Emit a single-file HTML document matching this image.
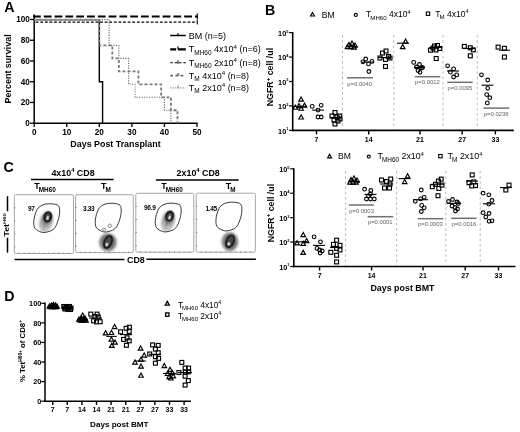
<!DOCTYPE html><html><head><meta charset="utf-8"><style>html,body{margin:0;padding:0;background:#fff;width:520px;height:432px;overflow:hidden}svg{display:block;filter:blur(0.3px)}text{font-family:"Liberation Sans",sans-serif}</style></head><body>
<svg width="520" height="432" viewBox="0 0 520 432">
<defs><filter id="bl" x="-50%" y="-50%" width="200%" height="200%"><feGaussianBlur stdDeviation="1.2"/></filter><filter id="bl3" x="-50%" y="-50%" width="200%" height="200%"><feGaussianBlur stdDeviation="0.9"/></filter><filter id="bl2" x="-50%" y="-50%" width="200%" height="200%"><feGaussianBlur stdDeviation="0.6"/></filter></defs>
<rect width="520" height="432" fill="#fff"/>
<text x="4.3" y="12.0" font-size="14.2" font-weight="bold" text-anchor="start" fill="#000" >A</text>
<line x1="34.20" y1="14.50" x2="34.20" y2="123.90" stroke="#000" stroke-width="1.5" />
<line x1="33.50" y1="123.20" x2="197.60" y2="123.20" stroke="#000" stroke-width="1.5" />
<line x1="30.00" y1="123.20" x2="34.20" y2="123.20" stroke="#000" stroke-width="1.3" />
<text x="29.8" y="126.1" font-size="8.2" font-weight="bold" text-anchor="end" fill="#000" >0</text>
<line x1="30.00" y1="102.46" x2="34.20" y2="102.46" stroke="#000" stroke-width="1.3" />
<text x="29.8" y="105.4" font-size="8.2" font-weight="bold" text-anchor="end" fill="#000" >20</text>
<line x1="30.00" y1="81.72" x2="34.20" y2="81.72" stroke="#000" stroke-width="1.3" />
<text x="29.8" y="84.6" font-size="8.2" font-weight="bold" text-anchor="end" fill="#000" >40</text>
<line x1="30.00" y1="60.98" x2="34.20" y2="60.98" stroke="#000" stroke-width="1.3" />
<text x="29.8" y="63.9" font-size="8.2" font-weight="bold" text-anchor="end" fill="#000" >60</text>
<line x1="30.00" y1="40.24" x2="34.20" y2="40.24" stroke="#000" stroke-width="1.3" />
<text x="29.8" y="43.1" font-size="8.2" font-weight="bold" text-anchor="end" fill="#000" >80</text>
<line x1="30.00" y1="19.50" x2="34.20" y2="19.50" stroke="#000" stroke-width="1.3" />
<text x="29.8" y="22.4" font-size="8.2" font-weight="bold" text-anchor="end" fill="#000" >100</text>
<line x1="34.20" y1="123.20" x2="34.20" y2="127.00" stroke="#000" stroke-width="1.3" />
<text x="34.2" y="135.2" font-size="8.2" font-weight="bold" text-anchor="middle" fill="#000" >0</text>
<line x1="66.76" y1="123.20" x2="66.76" y2="127.00" stroke="#000" stroke-width="1.3" />
<text x="66.8" y="135.2" font-size="8.2" font-weight="bold" text-anchor="middle" fill="#000" >10</text>
<line x1="99.32" y1="123.20" x2="99.32" y2="127.00" stroke="#000" stroke-width="1.3" />
<text x="99.3" y="135.2" font-size="8.2" font-weight="bold" text-anchor="middle" fill="#000" >20</text>
<line x1="131.88" y1="123.20" x2="131.88" y2="127.00" stroke="#000" stroke-width="1.3" />
<text x="131.9" y="135.2" font-size="8.2" font-weight="bold" text-anchor="middle" fill="#000" >30</text>
<line x1="164.44" y1="123.20" x2="164.44" y2="127.00" stroke="#000" stroke-width="1.3" />
<text x="164.4" y="135.2" font-size="8.2" font-weight="bold" text-anchor="middle" fill="#000" >40</text>
<line x1="197.00" y1="123.20" x2="197.00" y2="127.00" stroke="#000" stroke-width="1.3" />
<text x="197.0" y="135.2" font-size="8.2" font-weight="bold" text-anchor="middle" fill="#000" >50</text>
<text x="115.5" y="147.2" font-size="8.9" font-weight="bold" text-anchor="middle" fill="#000" >Days Post Transplant</text>
<text x="0.0" y="0.0" font-size="8.95" font-weight="bold" text-anchor="middle" fill="#000" transform="translate(10.8,68.9) rotate(-90)">Percent survival</text>
<path d="M34.2,19.6 H109.09 V45.43 H118.86 V58.39 H128.62 V84.31 H135.14 V97.28 H164.44 V110.24 H170.95 V123.2" fill="none" stroke="#6a6a6a" stroke-width="1.1" stroke-dasharray="1.2,1.3"/>
<path d="M34.2,19.6 H99.32 V81.72 H102.58 V123.2" fill="none" stroke="#000" stroke-width="1.4"/>
<path d="M34.2,19.6 H99.32 V45.43 H112.34 V58.39 H118.86 V71.35 H138.39 V84.31 H161.18 V97.28 H170.95 V110.24 H177.46 V123.2" fill="none" stroke="#7a7a7a" stroke-width="1.8" stroke-dasharray="3,2"/>
<line x1="34.20" y1="19.60" x2="99.32" y2="19.60" stroke="#8a8a8a" stroke-width="1.3" />
<line x1="33.00" y1="16.50" x2="197.30" y2="16.50" stroke="#000" stroke-width="2.0" stroke-dasharray="7.8,3"/>
<line x1="197.30" y1="13.50" x2="197.30" y2="19.50" stroke="#000" stroke-width="1.2" />
<line x1="35.70" y1="22.20" x2="197.30" y2="22.20" stroke="#000" stroke-width="1.2" stroke-dasharray="2.8,1.8"/>
<line x1="197.30" y1="20.00" x2="197.30" y2="24.50" stroke="#000" stroke-width="1.0" />
<line x1="170.20" y1="35.50" x2="185.80" y2="35.50" stroke="#000" stroke-width="1.5" />
<line x1="178.00" y1="33.00" x2="178.00" y2="35.50" stroke="#000" stroke-width="1.0" />
<line x1="170.20" y1="49.30" x2="185.80" y2="49.30" stroke="#000" stroke-width="2.2" stroke-dasharray="6,1.8,8"/>
<line x1="178.00" y1="46.50" x2="178.00" y2="49.30" stroke="#000" stroke-width="1.2" />
<line x1="170.20" y1="62.80" x2="185.80" y2="62.80" stroke="#000" stroke-width="1.1" stroke-dasharray="2.6,1.8"/>
<line x1="178.00" y1="60.30" x2="178.00" y2="63.80" stroke="#000" stroke-width="1.0" />
<line x1="170.20" y1="75.60" x2="185.80" y2="75.60" stroke="#707070" stroke-width="1.8" stroke-dasharray="2.8,2.4"/>
<path d="M176.6,76.1 L178,73.1 L179.4,76.1" fill="none" stroke="#707070" stroke-width="1.0"/>
<line x1="170.20" y1="87.90" x2="185.80" y2="87.90" stroke="#6a6a6a" stroke-width="0.9" stroke-dasharray="1.2,1.3"/>
<line x1="178.00" y1="85.40" x2="178.00" y2="88.40" stroke="#707070" stroke-width="0.9" />
<text x="188.8" y="38.5" font-size="9.0" font-weight="normal" fill="#000" ><tspan dy="0.00">BM (n=5)</tspan></text>
<text x="188.8" y="52.3" font-size="9.0" font-weight="normal" fill="#000" ><tspan dy="0.00">T</tspan><tspan font-size="6.48" dx="0" dy="2.52">MH60</tspan><tspan dy="-2.52"> 4x10</tspan><tspan font-size="6.12" dy="-3.78">4</tspan><tspan dy="3.78"> (n=6)</tspan></text>
<text x="188.8" y="65.8" font-size="9.0" font-weight="normal" fill="#000" ><tspan dy="0.00">T</tspan><tspan font-size="6.48" dx="0" dy="2.52">MH60</tspan><tspan dy="-2.52"> 2x10</tspan><tspan font-size="6.12" dy="-3.78">4</tspan><tspan dy="3.78"> (n=8)</tspan></text>
<text x="188.8" y="78.6" font-size="9.0" font-weight="normal" fill="#000" ><tspan dy="0.00">T</tspan><tspan font-size="6.48" dx="0" dy="2.52">M</tspan><tspan dy="-2.52"> 4x10</tspan><tspan font-size="6.12" dy="-3.78">4</tspan><tspan dy="3.78"> (n=8)</tspan></text>
<text x="188.8" y="90.9" font-size="9.0" font-weight="normal" fill="#000" ><tspan dy="0.00">T</tspan><tspan font-size="6.48" dx="0" dy="2.52">M</tspan><tspan dy="-2.52"> 2x10</tspan><tspan font-size="6.12" dy="-3.78">4</tspan><tspan dy="3.78"> (n=8)</tspan></text>
<text x="265.0" y="15.3" font-size="14.2" font-weight="bold" text-anchor="start" fill="#000" >B</text>
<line x1="292.70" y1="32.00" x2="292.70" y2="131.20" stroke="#000" stroke-width="1.6" />
<line x1="291.90" y1="130.40" x2="513.80" y2="130.40" stroke="#000" stroke-width="1.7" />
<line x1="289.10" y1="32.60" x2="292.70" y2="32.60" stroke="#000" stroke-width="1.2" />
<text x="278.1" y="35.8" font-size="7.3" font-weight="bold" fill="#000" ><tspan dy="0.00">10</tspan><tspan font-size="4.02" dy="-3.29">5</tspan></text>
<line x1="289.10" y1="57.05" x2="292.70" y2="57.05" stroke="#000" stroke-width="1.2" />
<text x="278.1" y="60.3" font-size="7.3" font-weight="bold" fill="#000" ><tspan dy="0.00">10</tspan><tspan font-size="4.02" dy="-3.29">4</tspan></text>
<line x1="289.10" y1="81.50" x2="292.70" y2="81.50" stroke="#000" stroke-width="1.2" />
<text x="278.1" y="84.7" font-size="7.3" font-weight="bold" fill="#000" ><tspan dy="0.00">10</tspan><tspan font-size="4.02" dy="-3.29">3</tspan></text>
<line x1="289.10" y1="105.95" x2="292.70" y2="105.95" stroke="#000" stroke-width="1.2" />
<text x="278.1" y="109.2" font-size="7.3" font-weight="bold" fill="#000" ><tspan dy="0.00">10</tspan><tspan font-size="4.02" dy="-3.29">2</tspan></text>
<line x1="289.10" y1="130.40" x2="292.70" y2="130.40" stroke="#000" stroke-width="1.2" />
<text x="278.1" y="133.6" font-size="7.3" font-weight="bold" fill="#000" ><tspan dy="0.00">10</tspan><tspan font-size="4.02" dy="-3.29">1</tspan></text>
<line x1="316.50" y1="130.40" x2="316.50" y2="134.40" stroke="#000" stroke-width="1.4" />
<text x="316.5" y="141.7" font-size="7.0" font-weight="bold" text-anchor="middle" fill="#000" >7</text>
<line x1="368.70" y1="130.40" x2="368.70" y2="134.40" stroke="#000" stroke-width="1.4" />
<text x="368.7" y="141.7" font-size="7.0" font-weight="bold" text-anchor="middle" fill="#000" >14</text>
<line x1="420.00" y1="130.40" x2="420.00" y2="134.40" stroke="#000" stroke-width="1.4" />
<text x="420.0" y="141.7" font-size="7.0" font-weight="bold" text-anchor="middle" fill="#000" >21</text>
<line x1="462.20" y1="130.40" x2="462.20" y2="134.40" stroke="#000" stroke-width="1.4" />
<text x="462.2" y="141.7" font-size="7.0" font-weight="bold" text-anchor="middle" fill="#000" >27</text>
<line x1="495.40" y1="130.40" x2="495.40" y2="134.40" stroke="#000" stroke-width="1.4" />
<text x="495.4" y="141.7" font-size="7.0" font-weight="bold" text-anchor="middle" fill="#000" >33</text>
<line x1="342.50" y1="35.00" x2="342.50" y2="129.40" stroke="#a8a8a8" stroke-width="0.8" stroke-dasharray="2.6,2.6"/>
<line x1="393.80" y1="35.00" x2="393.80" y2="129.40" stroke="#a8a8a8" stroke-width="0.8" stroke-dasharray="2.6,2.6"/>
<line x1="443.00" y1="35.00" x2="443.00" y2="129.40" stroke="#a8a8a8" stroke-width="0.8" stroke-dasharray="2.6,2.6"/>
<line x1="477.30" y1="35.00" x2="477.30" y2="129.40" stroke="#a8a8a8" stroke-width="0.8" stroke-dasharray="2.6,2.6"/>
<text x="0.0" y="0.0" font-size="8.8" font-weight="bold" fill="#000" text-anchor="middle" transform="translate(273.3,77.1) rotate(-90)"><tspan dy="0.00">NGFR</tspan><tspan font-size="6.16" dy="-3.52">+</tspan><tspan dy="3.52"> cell /ul</tspan></text>
<path d="M312.50,12.44 L314.50,16.04 L310.50,16.04 Z" fill="none" stroke="#000" stroke-width="1.1" stroke-linejoin="miter"/>
<text x="321.8" y="17.7" font-size="8.6" font-weight="normal" text-anchor="start" fill="#000" >BM</text>
<circle cx="355.80" cy="14.90" r="1.5" fill="none" stroke="#000" stroke-width="1.1"/>
<text x="366.0" y="17.2" font-size="8.5" font-weight="normal" fill="#000" ><tspan dy="0.00">T</tspan><tspan font-size="6.12" dx="-0.9" dy="2.38">MH60</tspan><tspan dy="-2.38"> 4x10</tspan><tspan font-size="5.27" dy="-3.57">4</tspan></text>
<rect x="426.30" y="12.00" width="3.4" height="3.4" fill="none" stroke="#000" stroke-width="1.1"/>
<text x="435.2" y="16.6" font-size="8.5" font-weight="normal" fill="#000" ><tspan dy="0.00">T</tspan><tspan font-size="6.12" dx="-0.9" dy="2.38">M</tspan><tspan dy="-2.38"> 4x10</tspan><tspan font-size="5.27" dy="-3.57">4</tspan></text>
<path d="M301.10,97.02 L303.40,101.16 L298.80,101.16 Z" fill="none" stroke="#000" stroke-width="1.15" stroke-linejoin="miter"/>
<path d="M295.30,105.12 L297.60,109.26 L293.00,109.26 Z" fill="none" stroke="#000" stroke-width="1.15" stroke-linejoin="miter"/>
<path d="M301.10,106.12 L303.40,110.26 L298.80,110.26 Z" fill="none" stroke="#000" stroke-width="1.15" stroke-linejoin="miter"/>
<path d="M304.50,103.12 L306.80,107.26 L302.20,107.26 Z" fill="none" stroke="#000" stroke-width="1.15" stroke-linejoin="miter"/>
<path d="M301.10,114.82 L303.40,118.96 L298.80,118.96 Z" fill="none" stroke="#000" stroke-width="1.15" stroke-linejoin="miter"/>
<path d="M299.00,103.52 L301.30,107.66 L296.70,107.66 Z" fill="none" stroke="#000" stroke-width="1.15" stroke-linejoin="miter"/>
<line x1="293.00" y1="106.40" x2="307.00" y2="106.40" stroke="#000" stroke-width="1.1" />
<circle cx="312.20" cy="106.40" r="1.85" fill="none" stroke="#000" stroke-width="1.1"/>
<circle cx="321.20" cy="105.30" r="1.85" fill="none" stroke="#000" stroke-width="1.1"/>
<circle cx="318.00" cy="110.10" r="1.85" fill="none" stroke="#000" stroke-width="1.1"/>
<circle cx="318.00" cy="117.00" r="1.85" fill="none" stroke="#000" stroke-width="1.1"/>
<circle cx="321.20" cy="117.00" r="1.85" fill="none" stroke="#000" stroke-width="1.1"/>
<line x1="312.20" y1="110.10" x2="324.00" y2="110.10" stroke="#000" stroke-width="1.1" />
<rect x="333.05" y="110.55" width="3.9" height="3.9" fill="none" stroke="#000" stroke-width="1.15"/>
<rect x="330.05" y="114.05" width="3.9" height="3.9" fill="none" stroke="#000" stroke-width="1.15"/>
<rect x="335.05" y="115.05" width="3.9" height="3.9" fill="none" stroke="#000" stroke-width="1.15"/>
<rect x="337.55" y="114.05" width="3.9" height="3.9" fill="none" stroke="#000" stroke-width="1.15"/>
<rect x="332.05" y="118.05" width="3.9" height="3.9" fill="none" stroke="#000" stroke-width="1.15"/>
<rect x="336.05" y="119.05" width="3.9" height="3.9" fill="none" stroke="#000" stroke-width="1.15"/>
<rect x="333.05" y="122.05" width="3.9" height="3.9" fill="none" stroke="#000" stroke-width="1.15"/>
<rect x="338.05" y="117.05" width="3.9" height="3.9" fill="none" stroke="#000" stroke-width="1.15"/>
<line x1="330.00" y1="117.50" x2="341.50" y2="117.50" stroke="#000" stroke-width="1.1" />
<path d="M349.00,42.52 L351.30,46.66 L346.70,46.66 Z" fill="none" stroke="#000" stroke-width="1.15" stroke-linejoin="miter"/>
<path d="M352.00,41.02 L354.30,45.16 L349.70,45.16 Z" fill="none" stroke="#000" stroke-width="1.15" stroke-linejoin="miter"/>
<path d="M355.00,43.02 L357.30,47.16 L352.70,47.16 Z" fill="none" stroke="#000" stroke-width="1.15" stroke-linejoin="miter"/>
<path d="M351.00,44.52 L353.30,48.66 L348.70,48.66 Z" fill="none" stroke="#000" stroke-width="1.15" stroke-linejoin="miter"/>
<path d="M354.00,45.02 L356.30,49.16 L351.70,49.16 Z" fill="none" stroke="#000" stroke-width="1.15" stroke-linejoin="miter"/>
<path d="M347.50,44.52 L349.80,48.66 L345.20,48.66 Z" fill="none" stroke="#000" stroke-width="1.15" stroke-linejoin="miter"/>
<line x1="346.50" y1="46.50" x2="357.50" y2="46.50" stroke="#000" stroke-width="1.1" />
<circle cx="362.90" cy="61.80" r="1.85" fill="none" stroke="#000" stroke-width="1.1"/>
<circle cx="365.70" cy="59.00" r="1.85" fill="none" stroke="#000" stroke-width="1.1"/>
<circle cx="368.50" cy="63.90" r="1.85" fill="none" stroke="#000" stroke-width="1.1"/>
<circle cx="372.00" cy="61.40" r="1.85" fill="none" stroke="#000" stroke-width="1.1"/>
<circle cx="368.90" cy="71.50" r="1.85" fill="none" stroke="#000" stroke-width="1.1"/>
<line x1="362.00" y1="62.20" x2="374.00" y2="62.20" stroke="#000" stroke-width="1.1" />
<rect x="378.05" y="56.05" width="3.9" height="3.9" fill="none" stroke="#000" stroke-width="1.15"/>
<rect x="380.55" y="51.05" width="3.9" height="3.9" fill="none" stroke="#000" stroke-width="1.15"/>
<rect x="384.05" y="49.05" width="3.9" height="3.9" fill="none" stroke="#000" stroke-width="1.15"/>
<rect x="386.55" y="54.55" width="3.9" height="3.9" fill="none" stroke="#000" stroke-width="1.15"/>
<rect x="383.55" y="57.55" width="3.9" height="3.9" fill="none" stroke="#000" stroke-width="1.15"/>
<rect x="383.55" y="64.55" width="3.9" height="3.9" fill="none" stroke="#000" stroke-width="1.15"/>
<rect x="388.05" y="56.05" width="3.9" height="3.9" fill="none" stroke="#000" stroke-width="1.15"/>
<line x1="378.00" y1="57.50" x2="391.00" y2="57.50" stroke="#000" stroke-width="1.1" />
<line x1="347.00" y1="77.80" x2="373.00" y2="77.80" stroke="#707070" stroke-width="1.5" />
<text x="347.3" y="85.5" font-size="5.9" font-weight="normal" text-anchor="start" fill="#606060" >p=0.0040</text>
<path d="M405.60,39.02 L407.90,43.16 L403.30,43.16 Z" fill="none" stroke="#000" stroke-width="1.15" stroke-linejoin="miter"/>
<path d="M402.70,44.52 L405.00,48.66 L400.40,48.66 Z" fill="none" stroke="#000" stroke-width="1.15" stroke-linejoin="miter"/>
<line x1="397.00" y1="43.20" x2="409.00" y2="43.20" stroke="#000" stroke-width="1.1" />
<circle cx="413.70" cy="62.40" r="1.85" fill="none" stroke="#000" stroke-width="1.1"/>
<circle cx="419.50" cy="64.50" r="1.85" fill="none" stroke="#000" stroke-width="1.1"/>
<circle cx="416.50" cy="67.00" r="1.85" fill="none" stroke="#000" stroke-width="1.1"/>
<circle cx="421.50" cy="68.00" r="1.85" fill="none" stroke="#000" stroke-width="1.1"/>
<circle cx="418.00" cy="70.50" r="1.85" fill="none" stroke="#000" stroke-width="1.1"/>
<circle cx="420.00" cy="72.30" r="1.85" fill="none" stroke="#000" stroke-width="1.1"/>
<circle cx="422.50" cy="67.50" r="1.85" fill="none" stroke="#000" stroke-width="1.1"/>
<line x1="414.00" y1="67.50" x2="425.00" y2="67.50" stroke="#000" stroke-width="1.1" />
<rect x="428.55" y="48.25" width="3.9" height="3.9" fill="none" stroke="#000" stroke-width="1.15"/>
<rect x="432.55" y="44.05" width="3.9" height="3.9" fill="none" stroke="#000" stroke-width="1.15"/>
<rect x="435.55" y="43.55" width="3.9" height="3.9" fill="none" stroke="#000" stroke-width="1.15"/>
<rect x="437.85" y="46.55" width="3.9" height="3.9" fill="none" stroke="#000" stroke-width="1.15"/>
<rect x="434.05" y="48.05" width="3.9" height="3.9" fill="none" stroke="#000" stroke-width="1.15"/>
<rect x="434.25" y="56.55" width="3.9" height="3.9" fill="none" stroke="#000" stroke-width="1.15"/>
<rect x="431.05" y="46.05" width="3.9" height="3.9" fill="none" stroke="#000" stroke-width="1.15"/>
<line x1="429.00" y1="47.60" x2="442.00" y2="47.60" stroke="#000" stroke-width="1.1" />
<line x1="414.80" y1="76.70" x2="440.30" y2="76.70" stroke="#707070" stroke-width="1.5" />
<text x="415.1" y="84.4" font-size="5.9" font-weight="normal" text-anchor="start" fill="#606060" >p=0.0012</text>
<circle cx="447.60" cy="65.80" r="1.85" fill="none" stroke="#000" stroke-width="1.1"/>
<circle cx="453.60" cy="68.90" r="1.85" fill="none" stroke="#000" stroke-width="1.1"/>
<circle cx="450.40" cy="72.10" r="1.85" fill="none" stroke="#000" stroke-width="1.1"/>
<circle cx="456.70" cy="74.90" r="1.85" fill="none" stroke="#000" stroke-width="1.1"/>
<circle cx="453.60" cy="77.00" r="1.85" fill="none" stroke="#000" stroke-width="1.1"/>
<line x1="447.00" y1="71.00" x2="459.00" y2="71.00" stroke="#000" stroke-width="1.1" />
<rect x="462.35" y="44.45" width="3.9" height="3.9" fill="none" stroke="#000" stroke-width="1.15"/>
<rect x="468.35" y="45.85" width="3.9" height="3.9" fill="none" stroke="#000" stroke-width="1.15"/>
<rect x="471.35" y="47.95" width="3.9" height="3.9" fill="none" stroke="#000" stroke-width="1.15"/>
<rect x="468.35" y="53.85" width="3.9" height="3.9" fill="none" stroke="#000" stroke-width="1.15"/>
<line x1="463.00" y1="48.50" x2="475.00" y2="48.50" stroke="#000" stroke-width="1.1" />
<line x1="447.20" y1="82.30" x2="472.70" y2="82.30" stroke="#707070" stroke-width="1.5" />
<text x="447.5" y="90.0" font-size="5.9" font-weight="normal" text-anchor="start" fill="#606060" >p=0.0095</text>
<circle cx="481.50" cy="74.80" r="1.85" fill="none" stroke="#000" stroke-width="1.1"/>
<circle cx="487.70" cy="80.00" r="1.85" fill="none" stroke="#000" stroke-width="1.1"/>
<circle cx="487.70" cy="88.30" r="1.85" fill="none" stroke="#000" stroke-width="1.1"/>
<circle cx="486.70" cy="94.60" r="1.85" fill="none" stroke="#000" stroke-width="1.1"/>
<circle cx="489.80" cy="97.70" r="1.85" fill="none" stroke="#000" stroke-width="1.1"/>
<circle cx="487.30" cy="102.90" r="1.85" fill="none" stroke="#000" stroke-width="1.1"/>
<line x1="481.50" y1="85.20" x2="493.50" y2="85.20" stroke="#000" stroke-width="1.1" />
<rect x="496.15" y="45.15" width="3.9" height="3.9" fill="none" stroke="#000" stroke-width="1.15"/>
<rect x="502.45" y="46.35" width="3.9" height="3.9" fill="none" stroke="#000" stroke-width="1.15"/>
<rect x="502.45" y="55.15" width="3.9" height="3.9" fill="none" stroke="#000" stroke-width="1.15"/>
<line x1="499.00" y1="50.20" x2="510.00" y2="50.20" stroke="#000" stroke-width="1.1" />
<line x1="483.50" y1="108.10" x2="509.20" y2="108.10" stroke="#707070" stroke-width="1.5" />
<text x="483.8" y="115.8" font-size="5.9" font-weight="normal" text-anchor="start" fill="#606060" >p=0.0238</text>
<line x1="293.80" y1="168.20" x2="293.80" y2="267.30" stroke="#000" stroke-width="1.6" />
<line x1="293.00" y1="266.50" x2="515.40" y2="266.50" stroke="#000" stroke-width="1.7" />
<line x1="290.20" y1="168.80" x2="293.80" y2="168.80" stroke="#000" stroke-width="1.2" />
<text x="279.2" y="172.0" font-size="7.3" font-weight="bold" fill="#000" ><tspan dy="0.00">10</tspan><tspan font-size="4.02" dy="-3.29">5</tspan></text>
<line x1="290.20" y1="193.23" x2="293.80" y2="193.23" stroke="#000" stroke-width="1.2" />
<text x="279.2" y="196.4" font-size="7.3" font-weight="bold" fill="#000" ><tspan dy="0.00">10</tspan><tspan font-size="4.02" dy="-3.29">4</tspan></text>
<line x1="290.20" y1="217.65" x2="293.80" y2="217.65" stroke="#000" stroke-width="1.2" />
<text x="279.2" y="220.8" font-size="7.3" font-weight="bold" fill="#000" ><tspan dy="0.00">10</tspan><tspan font-size="4.02" dy="-3.29">3</tspan></text>
<line x1="290.20" y1="242.07" x2="293.80" y2="242.07" stroke="#000" stroke-width="1.2" />
<text x="279.2" y="245.3" font-size="7.3" font-weight="bold" fill="#000" ><tspan dy="0.00">10</tspan><tspan font-size="4.02" dy="-3.29">2</tspan></text>
<line x1="290.20" y1="266.50" x2="293.80" y2="266.50" stroke="#000" stroke-width="1.2" />
<text x="279.2" y="269.7" font-size="7.3" font-weight="bold" fill="#000" ><tspan dy="0.00">10</tspan><tspan font-size="4.02" dy="-3.29">1</tspan></text>
<line x1="319.60" y1="266.50" x2="319.60" y2="270.50" stroke="#000" stroke-width="1.4" />
<text x="319.6" y="277.8" font-size="7.0" font-weight="bold" text-anchor="middle" fill="#000" >7</text>
<line x1="371.60" y1="266.50" x2="371.60" y2="270.50" stroke="#000" stroke-width="1.4" />
<text x="371.6" y="277.8" font-size="7.0" font-weight="bold" text-anchor="middle" fill="#000" >14</text>
<line x1="423.00" y1="266.50" x2="423.00" y2="270.50" stroke="#000" stroke-width="1.4" />
<text x="423.0" y="277.8" font-size="7.0" font-weight="bold" text-anchor="middle" fill="#000" >21</text>
<line x1="465.20" y1="266.50" x2="465.20" y2="270.50" stroke="#000" stroke-width="1.4" />
<text x="465.2" y="277.8" font-size="7.0" font-weight="bold" text-anchor="middle" fill="#000" >27</text>
<line x1="498.50" y1="266.50" x2="498.50" y2="270.50" stroke="#000" stroke-width="1.4" />
<text x="498.5" y="277.8" font-size="7.0" font-weight="bold" text-anchor="middle" fill="#000" >33</text>
<line x1="345.60" y1="171.00" x2="345.60" y2="265.50" stroke="#a8a8a8" stroke-width="0.8" stroke-dasharray="2.6,2.6"/>
<line x1="396.60" y1="171.00" x2="396.60" y2="265.50" stroke="#a8a8a8" stroke-width="0.8" stroke-dasharray="2.6,2.6"/>
<line x1="445.80" y1="171.00" x2="445.80" y2="265.50" stroke="#a8a8a8" stroke-width="0.8" stroke-dasharray="2.6,2.6"/>
<line x1="480.20" y1="171.00" x2="480.20" y2="265.50" stroke="#a8a8a8" stroke-width="0.8" stroke-dasharray="2.6,2.6"/>
<text x="0.0" y="0.0" font-size="8.8" font-weight="bold" fill="#000" text-anchor="middle" transform="translate(273.6,213.1) rotate(-90)"><tspan dy="0.00">NGFR</tspan><tspan font-size="6.16" dy="-3.52">+</tspan><tspan dy="3.52"> cell /ul</tspan></text>
<text x="402.5" y="290.5" font-size="8.9" font-weight="bold" text-anchor="middle" fill="#000" >Days post BMT</text>
<path d="M329.60,154.24 L331.60,157.84 L327.60,157.84 Z" fill="none" stroke="#000" stroke-width="1.1" stroke-linejoin="miter"/>
<text x="338.0" y="159.4" font-size="8.6" font-weight="normal" text-anchor="start" fill="#000" >BM</text>
<circle cx="368.80" cy="156.60" r="1.5" fill="none" stroke="#000" stroke-width="1.1"/>
<text x="377.4" y="159.4" font-size="8.9" font-weight="normal" fill="#000" ><tspan dy="0.00">T</tspan><tspan font-size="6.41" dx="-0.9" dy="2.49">MH60</tspan><tspan dy="-2.49"> 2x10</tspan><tspan font-size="5.52" dy="-3.74">4</tspan></text>
<rect x="438.70" y="154.50" width="3.4" height="3.4" fill="none" stroke="#000" stroke-width="1.1"/>
<text x="447.6" y="159.4" font-size="8.9" font-weight="normal" fill="#000" ><tspan dy="0.00">T</tspan><tspan font-size="6.41" dx="-0.9" dy="2.49">M</tspan><tspan dy="-2.49"> 2x10</tspan><tspan font-size="5.52" dy="-3.74">4</tspan></text>
<path d="M303.20,232.52 L305.50,236.66 L300.90,236.66 Z" fill="none" stroke="#000" stroke-width="1.15" stroke-linejoin="miter"/>
<path d="M297.10,240.72 L299.40,244.86 L294.80,244.86 Z" fill="none" stroke="#000" stroke-width="1.15" stroke-linejoin="miter"/>
<path d="M303.20,241.22 L305.50,245.36 L300.90,245.36 Z" fill="none" stroke="#000" stroke-width="1.15" stroke-linejoin="miter"/>
<path d="M306.60,238.42 L308.90,242.56 L304.30,242.56 Z" fill="none" stroke="#000" stroke-width="1.15" stroke-linejoin="miter"/>
<path d="M303.20,250.22 L305.50,254.36 L300.90,254.36 Z" fill="none" stroke="#000" stroke-width="1.15" stroke-linejoin="miter"/>
<line x1="294.00" y1="241.80" x2="309.00" y2="241.80" stroke="#000" stroke-width="1.1" />
<circle cx="314.10" cy="236.80" r="1.85" fill="none" stroke="#000" stroke-width="1.1"/>
<circle cx="320.50" cy="241.80" r="1.85" fill="none" stroke="#000" stroke-width="1.1"/>
<circle cx="317.00" cy="248.40" r="1.85" fill="none" stroke="#000" stroke-width="1.1"/>
<circle cx="319.60" cy="250.00" r="1.85" fill="none" stroke="#000" stroke-width="1.1"/>
<circle cx="322.20" cy="251.00" r="1.85" fill="none" stroke="#000" stroke-width="1.1"/>
<circle cx="320.10" cy="253.00" r="1.85" fill="none" stroke="#000" stroke-width="1.1"/>
<line x1="313.00" y1="245.40" x2="325.00" y2="245.40" stroke="#000" stroke-width="1.1" />
<rect x="334.65" y="238.25" width="3.9" height="3.9" fill="none" stroke="#000" stroke-width="1.15"/>
<rect x="331.45" y="242.45" width="3.9" height="3.9" fill="none" stroke="#000" stroke-width="1.15"/>
<rect x="338.05" y="243.45" width="3.9" height="3.9" fill="none" stroke="#000" stroke-width="1.15"/>
<rect x="328.85" y="250.35" width="3.9" height="3.9" fill="none" stroke="#000" stroke-width="1.15"/>
<rect x="334.65" y="246.45" width="3.9" height="3.9" fill="none" stroke="#000" stroke-width="1.15"/>
<rect x="338.05" y="248.05" width="3.9" height="3.9" fill="none" stroke="#000" stroke-width="1.15"/>
<rect x="334.65" y="253.35" width="3.9" height="3.9" fill="none" stroke="#000" stroke-width="1.15"/>
<rect x="334.65" y="259.95" width="3.9" height="3.9" fill="none" stroke="#000" stroke-width="1.15"/>
<line x1="330.00" y1="247.50" x2="342.00" y2="247.50" stroke="#000" stroke-width="1.1" />
<path d="M351.00,177.52 L353.30,181.66 L348.70,181.66 Z" fill="none" stroke="#000" stroke-width="1.15" stroke-linejoin="miter"/>
<path d="M354.00,176.02 L356.30,180.16 L351.70,180.16 Z" fill="none" stroke="#000" stroke-width="1.15" stroke-linejoin="miter"/>
<path d="M357.00,178.02 L359.30,182.16 L354.70,182.16 Z" fill="none" stroke="#000" stroke-width="1.15" stroke-linejoin="miter"/>
<path d="M353.00,180.02 L355.30,184.16 L350.70,184.16 Z" fill="none" stroke="#000" stroke-width="1.15" stroke-linejoin="miter"/>
<path d="M356.00,180.02 L358.30,184.16 L353.70,184.16 Z" fill="none" stroke="#000" stroke-width="1.15" stroke-linejoin="miter"/>
<path d="M350.00,180.02 L352.30,184.16 L347.70,184.16 Z" fill="none" stroke="#000" stroke-width="1.15" stroke-linejoin="miter"/>
<line x1="349.00" y1="181.50" x2="360.00" y2="181.50" stroke="#000" stroke-width="1.1" />
<circle cx="364.60" cy="189.20" r="1.85" fill="none" stroke="#000" stroke-width="1.1"/>
<circle cx="370.80" cy="190.50" r="1.85" fill="none" stroke="#000" stroke-width="1.1"/>
<circle cx="366.50" cy="199.00" r="1.85" fill="none" stroke="#000" stroke-width="1.1"/>
<circle cx="370.50" cy="199.00" r="1.85" fill="none" stroke="#000" stroke-width="1.1"/>
<circle cx="374.30" cy="199.00" r="1.85" fill="none" stroke="#000" stroke-width="1.1"/>
<circle cx="370.50" cy="194.00" r="1.85" fill="none" stroke="#000" stroke-width="1.1"/>
<circle cx="368.50" cy="196.00" r="1.85" fill="none" stroke="#000" stroke-width="1.1"/>
<line x1="364.50" y1="194.40" x2="376.50" y2="194.40" stroke="#000" stroke-width="1.1" />
<rect x="379.55" y="178.05" width="3.9" height="3.9" fill="none" stroke="#000" stroke-width="1.15"/>
<rect x="384.55" y="179.55" width="3.9" height="3.9" fill="none" stroke="#000" stroke-width="1.15"/>
<rect x="388.75" y="177.05" width="3.9" height="3.9" fill="none" stroke="#000" stroke-width="1.15"/>
<rect x="382.55" y="186.05" width="3.9" height="3.9" fill="none" stroke="#000" stroke-width="1.15"/>
<rect x="387.55" y="186.05" width="3.9" height="3.9" fill="none" stroke="#000" stroke-width="1.15"/>
<rect x="388.05" y="182.05" width="3.9" height="3.9" fill="none" stroke="#000" stroke-width="1.15"/>
<line x1="380.00" y1="184.00" x2="393.00" y2="184.00" stroke="#000" stroke-width="1.1" />
<line x1="348.90" y1="205.00" x2="374.00" y2="205.00" stroke="#707070" stroke-width="1.5" />
<text x="349.2" y="212.7" font-size="5.9" font-weight="normal" text-anchor="start" fill="#606060" >p=0.0003</text>
<line x1="367.60" y1="216.70" x2="393.20" y2="216.70" stroke="#707070" stroke-width="1.5" />
<text x="367.9" y="224.4" font-size="5.9" font-weight="normal" text-anchor="start" fill="#606060" >p=0.0001</text>
<path d="M407.60,173.72 L409.90,177.86 L405.30,177.86 Z" fill="none" stroke="#000" stroke-width="1.15" stroke-linejoin="miter"/>
<path d="M404.70,179.42 L407.00,183.56 L402.40,183.56 Z" fill="none" stroke="#000" stroke-width="1.15" stroke-linejoin="miter"/>
<line x1="398.60" y1="178.60" x2="410.40" y2="178.60" stroke="#000" stroke-width="1.1" />
<circle cx="421.30" cy="190.00" r="1.85" fill="none" stroke="#000" stroke-width="1.1"/>
<circle cx="415.30" cy="201.30" r="1.85" fill="none" stroke="#000" stroke-width="1.1"/>
<circle cx="420.60" cy="198.90" r="1.85" fill="none" stroke="#000" stroke-width="1.1"/>
<circle cx="424.20" cy="197.30" r="1.85" fill="none" stroke="#000" stroke-width="1.1"/>
<circle cx="421.70" cy="205.40" r="1.85" fill="none" stroke="#000" stroke-width="1.1"/>
<circle cx="424.20" cy="207.80" r="1.85" fill="none" stroke="#000" stroke-width="1.1"/>
<circle cx="421.30" cy="211.50" r="1.85" fill="none" stroke="#000" stroke-width="1.1"/>
<line x1="413.00" y1="199.70" x2="428.00" y2="199.70" stroke="#000" stroke-width="1.1" />
<rect x="439.25" y="177.15" width="3.9" height="3.9" fill="none" stroke="#000" stroke-width="1.15"/>
<rect x="430.35" y="184.75" width="3.9" height="3.9" fill="none" stroke="#000" stroke-width="1.15"/>
<rect x="433.55" y="182.35" width="3.9" height="3.9" fill="none" stroke="#000" stroke-width="1.15"/>
<rect x="436.45" y="179.15" width="3.9" height="3.9" fill="none" stroke="#000" stroke-width="1.15"/>
<rect x="436.85" y="186.45" width="3.9" height="3.9" fill="none" stroke="#000" stroke-width="1.15"/>
<rect x="440.05" y="183.15" width="3.9" height="3.9" fill="none" stroke="#000" stroke-width="1.15"/>
<rect x="436.05" y="193.75" width="3.9" height="3.9" fill="none" stroke="#000" stroke-width="1.15"/>
<line x1="431.00" y1="184.30" x2="444.00" y2="184.30" stroke="#000" stroke-width="1.1" />
<line x1="417.70" y1="218.70" x2="443.30" y2="218.70" stroke="#707070" stroke-width="1.5" />
<text x="418.0" y="226.4" font-size="5.9" font-weight="normal" text-anchor="start" fill="#606060" >p=0.0003</text>
<circle cx="448.50" cy="201.50" r="1.85" fill="none" stroke="#000" stroke-width="1.1"/>
<circle cx="452.50" cy="199.50" r="1.85" fill="none" stroke="#000" stroke-width="1.1"/>
<circle cx="457.00" cy="202.00" r="1.85" fill="none" stroke="#000" stroke-width="1.1"/>
<circle cx="458.30" cy="203.50" r="1.85" fill="none" stroke="#000" stroke-width="1.1"/>
<circle cx="452.00" cy="206.00" r="1.85" fill="none" stroke="#000" stroke-width="1.1"/>
<circle cx="455.00" cy="207.50" r="1.85" fill="none" stroke="#000" stroke-width="1.1"/>
<circle cx="457.50" cy="209.00" r="1.85" fill="none" stroke="#000" stroke-width="1.1"/>
<circle cx="455.50" cy="211.00" r="1.85" fill="none" stroke="#000" stroke-width="1.1"/>
<line x1="447.00" y1="203.40" x2="461.00" y2="203.40" stroke="#000" stroke-width="1.1" />
<rect x="470.25" y="172.95" width="3.9" height="3.9" fill="none" stroke="#000" stroke-width="1.15"/>
<rect x="467.05" y="180.75" width="3.9" height="3.9" fill="none" stroke="#000" stroke-width="1.15"/>
<rect x="471.85" y="179.95" width="3.9" height="3.9" fill="none" stroke="#000" stroke-width="1.15"/>
<rect x="469.75" y="183.95" width="3.9" height="3.9" fill="none" stroke="#000" stroke-width="1.15"/>
<rect x="473.55" y="183.65" width="3.9" height="3.9" fill="none" stroke="#000" stroke-width="1.15"/>
<line x1="466.00" y1="181.10" x2="478.00" y2="181.10" stroke="#000" stroke-width="1.1" />
<line x1="451.20" y1="218.30" x2="476.60" y2="218.30" stroke="#707070" stroke-width="1.5" />
<text x="451.5" y="226.0" font-size="5.9" font-weight="normal" text-anchor="start" fill="#606060" >p=0.0016</text>
<circle cx="483.10" cy="193.20" r="1.85" fill="none" stroke="#000" stroke-width="1.1"/>
<circle cx="488.80" cy="194.80" r="1.85" fill="none" stroke="#000" stroke-width="1.1"/>
<circle cx="492.00" cy="200.50" r="1.85" fill="none" stroke="#000" stroke-width="1.1"/>
<circle cx="488.80" cy="204.10" r="1.85" fill="none" stroke="#000" stroke-width="1.1"/>
<circle cx="483.10" cy="212.70" r="1.85" fill="none" stroke="#000" stroke-width="1.1"/>
<circle cx="489.10" cy="213.50" r="1.85" fill="none" stroke="#000" stroke-width="1.1"/>
<circle cx="485.80" cy="217.00" r="1.85" fill="none" stroke="#000" stroke-width="1.1"/>
<circle cx="489.10" cy="221.30" r="1.85" fill="none" stroke="#000" stroke-width="1.1"/>
<circle cx="492.00" cy="220.80" r="1.85" fill="none" stroke="#000" stroke-width="1.1"/>
<line x1="483.00" y1="203.80" x2="495.00" y2="203.80" stroke="#000" stroke-width="1.1" />
<rect x="507.05" y="183.15" width="3.9" height="3.9" fill="none" stroke="#000" stroke-width="1.15"/>
<rect x="503.85" y="188.05" width="3.9" height="3.9" fill="none" stroke="#000" stroke-width="1.15"/>
<line x1="500.00" y1="187.60" x2="512.00" y2="187.60" stroke="#000" stroke-width="1.1" />
<text x="3.4" y="171.7" font-size="14.2" font-weight="bold" text-anchor="start" fill="#000" >C</text>
<text x="73.0" y="175.8" font-size="8.9" font-weight="bold" fill="#000" text-anchor="middle"><tspan dy="0.00">4x10</tspan><tspan font-size="5.79" dy="-3.74">4</tspan><tspan dy="3.74"> CD8</tspan></text>
<line x1="31.00" y1="179.60" x2="113.60" y2="179.60" stroke="#000" stroke-width="1.5" />
<text x="198.2" y="176.0" font-size="8.9" font-weight="bold" fill="#000" text-anchor="middle"><tspan dy="0.00">2x10</tspan><tspan font-size="5.79" dy="-3.74">4</tspan><tspan dy="3.74"> CD8</tspan></text>
<line x1="155.80" y1="179.90" x2="238.70" y2="179.90" stroke="#000" stroke-width="1.5" />
<text x="34.2" y="189.2" font-size="8.9" font-weight="bold" fill="#000" ><tspan dy="0.00">T</tspan><tspan font-size="6.41" dx="-0.9" dy="2.67">MH60</tspan></text>
<text x="101.0" y="189.2" font-size="8.9" font-weight="bold" fill="#000" ><tspan dy="0.00">T</tspan><tspan font-size="6.41" dx="-0.9" dy="2.67">M</tspan></text>
<text x="161.2" y="189.2" font-size="8.9" font-weight="bold" fill="#000" ><tspan dy="0.00">T</tspan><tspan font-size="6.41" dx="-0.9" dy="2.67">MH60</tspan></text>
<text x="225.7" y="189.2" font-size="8.9" font-weight="bold" fill="#000" ><tspan dy="0.00">T</tspan><tspan font-size="6.41" dx="-0.9" dy="2.67">M</tspan></text>
<line x1="7.50" y1="196.20" x2="7.50" y2="211.20" stroke="#000" stroke-width="1.5" />
<line x1="7.50" y1="237.80" x2="7.50" y2="252.60" stroke="#000" stroke-width="1.5" />
<text x="0.0" y="0.0" font-size="8.9" font-weight="bold" fill="#000" text-anchor="middle" transform="translate(8.9,224.9) rotate(-90) scale(1,0.74)"><tspan dy="0.00">Tet</tspan><tspan font-size="5.87" dy="-3.56">H60</tspan></text>
<line x1="14.50" y1="259.40" x2="124.40" y2="259.40" stroke="#000" stroke-width="1.5" />
<line x1="146.40" y1="259.30" x2="255.90" y2="259.30" stroke="#000" stroke-width="1.5" />
<text x="135.9" y="262.7" font-size="8.9" font-weight="bold" text-anchor="middle" fill="#000" >CD8</text>
<rect x="14.3" y="194.7" width="59.2" height="58.8" rx="1.5" fill="#fff" stroke="#a8a8a8" stroke-width="1.0"/>
<line x1="14.00" y1="207.77" x2="15.30" y2="207.77" stroke="#666" stroke-width="0.8" />
<line x1="14.00" y1="220.83" x2="15.30" y2="220.83" stroke="#666" stroke-width="0.8" />
<line x1="14.00" y1="233.90" x2="15.30" y2="233.90" stroke="#666" stroke-width="0.8" />
<line x1="14.00" y1="246.97" x2="15.30" y2="246.97" stroke="#666" stroke-width="0.8" />
<line x1="19.23" y1="253.80" x2="19.23" y2="252.50" stroke="#777" stroke-width="0.7" />
<line x1="24.17" y1="253.80" x2="24.17" y2="252.50" stroke="#777" stroke-width="0.7" />
<line x1="29.10" y1="253.80" x2="29.10" y2="252.50" stroke="#777" stroke-width="0.7" />
<line x1="34.03" y1="253.80" x2="34.03" y2="252.50" stroke="#777" stroke-width="0.7" />
<line x1="38.97" y1="253.80" x2="38.97" y2="252.50" stroke="#777" stroke-width="0.7" />
<line x1="43.90" y1="253.80" x2="43.90" y2="252.50" stroke="#777" stroke-width="0.7" />
<line x1="48.83" y1="253.80" x2="48.83" y2="252.50" stroke="#777" stroke-width="0.7" />
<line x1="53.77" y1="253.80" x2="53.77" y2="252.50" stroke="#777" stroke-width="0.7" />
<line x1="58.70" y1="253.80" x2="58.70" y2="252.50" stroke="#777" stroke-width="0.7" />
<line x1="63.63" y1="253.80" x2="63.63" y2="252.50" stroke="#777" stroke-width="0.7" />
<line x1="68.57" y1="253.80" x2="68.57" y2="252.50" stroke="#777" stroke-width="0.7" />
<rect x="75.6" y="194.7" width="57.7" height="57.9" rx="1.5" fill="#fff" stroke="#a8a8a8" stroke-width="1.0"/>
<line x1="75.30" y1="207.57" x2="76.60" y2="207.57" stroke="#666" stroke-width="0.8" />
<line x1="75.30" y1="220.43" x2="76.60" y2="220.43" stroke="#666" stroke-width="0.8" />
<line x1="75.30" y1="233.30" x2="76.60" y2="233.30" stroke="#666" stroke-width="0.8" />
<line x1="75.30" y1="246.17" x2="76.60" y2="246.17" stroke="#666" stroke-width="0.8" />
<line x1="80.41" y1="252.90" x2="80.41" y2="251.60" stroke="#777" stroke-width="0.7" />
<line x1="85.22" y1="252.90" x2="85.22" y2="251.60" stroke="#777" stroke-width="0.7" />
<line x1="90.03" y1="252.90" x2="90.03" y2="251.60" stroke="#777" stroke-width="0.7" />
<line x1="94.83" y1="252.90" x2="94.83" y2="251.60" stroke="#777" stroke-width="0.7" />
<line x1="99.64" y1="252.90" x2="99.64" y2="251.60" stroke="#777" stroke-width="0.7" />
<line x1="104.45" y1="252.90" x2="104.45" y2="251.60" stroke="#777" stroke-width="0.7" />
<line x1="109.26" y1="252.90" x2="109.26" y2="251.60" stroke="#777" stroke-width="0.7" />
<line x1="114.07" y1="252.90" x2="114.07" y2="251.60" stroke="#777" stroke-width="0.7" />
<line x1="118.88" y1="252.90" x2="118.88" y2="251.60" stroke="#777" stroke-width="0.7" />
<line x1="123.68" y1="252.90" x2="123.68" y2="251.60" stroke="#777" stroke-width="0.7" />
<line x1="128.49" y1="252.90" x2="128.49" y2="251.60" stroke="#777" stroke-width="0.7" />
<rect x="135.8" y="193.3" width="58.0" height="58.9" rx="1.5" fill="#fff" stroke="#a8a8a8" stroke-width="1.0"/>
<line x1="135.50" y1="206.39" x2="136.80" y2="206.39" stroke="#666" stroke-width="0.8" />
<line x1="135.50" y1="219.48" x2="136.80" y2="219.48" stroke="#666" stroke-width="0.8" />
<line x1="135.50" y1="232.57" x2="136.80" y2="232.57" stroke="#666" stroke-width="0.8" />
<line x1="135.50" y1="245.66" x2="136.80" y2="245.66" stroke="#666" stroke-width="0.8" />
<line x1="140.63" y1="252.50" x2="140.63" y2="251.20" stroke="#777" stroke-width="0.7" />
<line x1="145.47" y1="252.50" x2="145.47" y2="251.20" stroke="#777" stroke-width="0.7" />
<line x1="150.30" y1="252.50" x2="150.30" y2="251.20" stroke="#777" stroke-width="0.7" />
<line x1="155.13" y1="252.50" x2="155.13" y2="251.20" stroke="#777" stroke-width="0.7" />
<line x1="159.97" y1="252.50" x2="159.97" y2="251.20" stroke="#777" stroke-width="0.7" />
<line x1="164.80" y1="252.50" x2="164.80" y2="251.20" stroke="#777" stroke-width="0.7" />
<line x1="169.63" y1="252.50" x2="169.63" y2="251.20" stroke="#777" stroke-width="0.7" />
<line x1="174.47" y1="252.50" x2="174.47" y2="251.20" stroke="#777" stroke-width="0.7" />
<line x1="179.30" y1="252.50" x2="179.30" y2="251.20" stroke="#777" stroke-width="0.7" />
<line x1="184.13" y1="252.50" x2="184.13" y2="251.20" stroke="#777" stroke-width="0.7" />
<line x1="188.97" y1="252.50" x2="188.97" y2="251.20" stroke="#777" stroke-width="0.7" />
<rect x="196.2" y="193.2" width="59.2" height="59.0" rx="1.5" fill="#fff" stroke="#a8a8a8" stroke-width="1.0"/>
<line x1="195.90" y1="206.31" x2="197.20" y2="206.31" stroke="#666" stroke-width="0.8" />
<line x1="195.90" y1="219.42" x2="197.20" y2="219.42" stroke="#666" stroke-width="0.8" />
<line x1="195.90" y1="232.53" x2="197.20" y2="232.53" stroke="#666" stroke-width="0.8" />
<line x1="195.90" y1="245.64" x2="197.20" y2="245.64" stroke="#666" stroke-width="0.8" />
<line x1="201.13" y1="252.50" x2="201.13" y2="251.20" stroke="#777" stroke-width="0.7" />
<line x1="206.07" y1="252.50" x2="206.07" y2="251.20" stroke="#777" stroke-width="0.7" />
<line x1="211.00" y1="252.50" x2="211.00" y2="251.20" stroke="#777" stroke-width="0.7" />
<line x1="215.93" y1="252.50" x2="215.93" y2="251.20" stroke="#777" stroke-width="0.7" />
<line x1="220.87" y1="252.50" x2="220.87" y2="251.20" stroke="#777" stroke-width="0.7" />
<line x1="225.80" y1="252.50" x2="225.80" y2="251.20" stroke="#777" stroke-width="0.7" />
<line x1="230.73" y1="252.50" x2="230.73" y2="251.20" stroke="#777" stroke-width="0.7" />
<line x1="235.67" y1="252.50" x2="235.67" y2="251.20" stroke="#777" stroke-width="0.7" />
<line x1="240.60" y1="252.50" x2="240.60" y2="251.20" stroke="#777" stroke-width="0.7" />
<line x1="245.53" y1="252.50" x2="245.53" y2="251.20" stroke="#777" stroke-width="0.7" />
<line x1="250.47" y1="252.50" x2="250.47" y2="251.20" stroke="#777" stroke-width="0.7" />
<g filter="url(#bl3)" transform="rotate(16 47.6 217.1)"><ellipse cx="47.4" cy="221.7" rx="6.6" ry="10.6" fill="#b0b0b0"/><ellipse cx="47.6" cy="219.1" rx="5.2" ry="7.6" fill="#7a7a7a"/></g>
<g filter="url(#bl2)" transform="rotate(16 47.6 217.1)"><ellipse cx="47.6" cy="216.79999999999998" rx="3.3" ry="4.6" fill="#505050" stroke="#141414" stroke-width="2.1"/><ellipse cx="47.9" cy="218.0" rx="1.0" ry="2.2" fill="#e4e4e4"/><path d="M44.6,223.1 q1,4 0,9 M48.6,224.1 q1,4 0,8 M51.1,222.1 q0.5,4 -0.5,7" stroke="#d8d8d8" stroke-width="0.6" fill="none"/></g>
<g filter="url(#bl3)"><ellipse cx="107.9" cy="242.3" rx="8.9" ry="9.3" fill="#8a8a8a"/><ellipse cx="108.4" cy="241.8" rx="6.4" ry="7.1000000000000005" fill="#666"/></g>
<g filter="url(#bl2)" transform="rotate(22 107.9 242.3)"><ellipse cx="107.9" cy="242.0" rx="3.6" ry="6.4" fill="#4a4a4a" stroke="#111" stroke-width="1.6"/><ellipse cx="107.7" cy="244.70000000000002" rx="1.2" ry="1.7" fill="#eeeeee"/></g>
<g filter="url(#bl3)" transform="rotate(16 169.5 216.5)"><ellipse cx="169.3" cy="221.1" rx="6.6" ry="10.6" fill="#b0b0b0"/><ellipse cx="169.5" cy="218.5" rx="5.2" ry="7.6" fill="#7a7a7a"/></g>
<g filter="url(#bl2)" transform="rotate(16 169.5 216.5)"><ellipse cx="169.5" cy="216.2" rx="3.3" ry="4.6" fill="#505050" stroke="#141414" stroke-width="2.1"/><ellipse cx="169.8" cy="217.4" rx="1.0" ry="2.2" fill="#e4e4e4"/><path d="M166.5,222.5 q1,4 0,9 M170.5,223.5 q1,4 0,8 M173.0,221.5 q0.5,4 -0.5,7" stroke="#d8d8d8" stroke-width="0.6" fill="none"/></g>
<g filter="url(#bl3)"><ellipse cx="229.9" cy="241.7" rx="8.5" ry="9.6" fill="#8a8a8a"/><ellipse cx="230.4" cy="241.2" rx="6.0" ry="7.3999999999999995" fill="#666"/></g>
<g filter="url(#bl2)" transform="rotate(22 229.9 241.7)"><ellipse cx="229.9" cy="241.39999999999998" rx="3.6" ry="6.4" fill="#4a4a4a" stroke="#111" stroke-width="1.6"/><ellipse cx="229.70000000000002" cy="244.1" rx="1.2" ry="1.7" fill="#eeeeee"/></g>
<path d="M49.20,203.75 C51.70,203.75 55.77,204.09 57.50,205.00 C59.23,205.91 59.28,207.53 59.60,209.20 C59.92,210.87 59.68,213.03 59.40,215.00 C59.12,216.97 58.63,218.92 57.90,221.00 C57.17,223.08 56.18,225.87 55.00,227.50 C53.82,229.13 52.67,229.97 50.80,230.80 C48.92,231.63 45.80,232.47 43.75,232.50 C41.70,232.53 39.96,231.70 38.50,231.00 C37.04,230.30 35.79,229.43 35.00,228.30 C34.21,227.17 33.88,225.92 33.75,224.20 C33.62,222.48 33.86,219.95 34.20,218.00 C34.54,216.05 35.18,214.12 35.80,212.50 C36.42,210.88 36.78,209.55 37.90,208.30 C39.02,207.05 40.62,205.76 42.50,205.00 C44.38,204.24 46.70,203.75 49.20,203.75 Z" fill="none" stroke="#222" stroke-width="0.9"/>
<path d="M110.70,203.25 C113.20,203.25 117.27,203.59 119.00,204.50 C120.73,205.41 120.78,207.03 121.10,208.70 C121.42,210.37 121.18,212.53 120.90,214.50 C120.62,216.47 120.13,218.42 119.40,220.50 C118.67,222.58 117.68,225.37 116.50,227.00 C115.32,228.63 114.17,229.47 112.30,230.30 C110.42,231.13 107.30,231.97 105.25,232.00 C103.20,232.03 101.46,231.20 100.00,230.50 C98.54,229.80 97.29,228.93 96.50,227.80 C95.71,226.67 95.38,225.42 95.25,223.70 C95.12,221.98 95.36,219.45 95.70,217.50 C96.04,215.55 96.68,213.62 97.30,212.00 C97.92,210.38 98.28,209.05 99.40,207.80 C100.52,206.55 102.12,205.26 104.00,204.50 C105.88,203.74 108.20,203.25 110.70,203.25 Z" fill="none" stroke="#222" stroke-width="0.9"/>
<path d="M170.70,203.15 C173.20,203.15 177.27,203.49 179.00,204.40 C180.73,205.31 180.78,206.93 181.10,208.60 C181.42,210.27 181.18,212.43 180.90,214.40 C180.62,216.37 180.13,218.32 179.40,220.40 C178.67,222.48 177.68,225.27 176.50,226.90 C175.32,228.53 174.18,229.37 172.30,230.20 C170.43,231.03 167.30,231.87 165.25,231.90 C163.20,231.93 161.46,231.10 160.00,230.40 C158.54,229.70 157.29,228.83 156.50,227.70 C155.71,226.57 155.38,225.32 155.25,223.60 C155.12,221.88 155.36,219.35 155.70,217.40 C156.04,215.45 156.68,213.52 157.30,211.90 C157.92,210.28 158.28,208.95 159.40,207.70 C160.52,206.45 162.12,205.16 164.00,204.40 C165.88,203.64 168.20,203.15 170.70,203.15 Z" fill="none" stroke="#222" stroke-width="0.9"/>
<path d="M231.40,202.15 C233.90,202.15 237.97,202.49 239.70,203.40 C241.43,204.31 241.48,205.93 241.80,207.60 C242.12,209.27 241.88,211.43 241.60,213.40 C241.32,215.37 240.83,217.32 240.10,219.40 C239.37,221.48 238.38,224.27 237.20,225.90 C236.02,227.53 234.88,228.37 233.00,229.20 C231.12,230.03 228.00,230.87 225.95,230.90 C223.90,230.93 222.16,230.10 220.70,229.40 C219.24,228.70 217.99,227.83 217.20,226.70 C216.41,225.57 216.08,224.32 215.95,222.60 C215.82,220.88 216.06,218.35 216.40,216.40 C216.74,214.45 217.38,212.52 218.00,210.90 C218.62,209.28 218.98,207.95 220.10,206.70 C221.22,205.45 222.82,204.16 224.70,203.40 C226.58,202.64 228.90,202.15 231.40,202.15 Z" fill="none" stroke="#222" stroke-width="0.9"/>
<circle cx="109.8" cy="225.7" r="1.7" fill="none" stroke="#555" stroke-width="0.7"/>
<ellipse cx="103.9" cy="229.4" rx="1.9" ry="1.1" fill="none" stroke="#666" stroke-width="0.7"/>
<text x="28.0" y="210.9" font-size="6.5" font-weight="bold" text-anchor="start" fill="#000" letter-spacing="-0.3">97</text>
<text x="82.9" y="210.6" font-size="6.5" font-weight="bold" text-anchor="start" fill="#000" letter-spacing="-0.3">3.33</text>
<text x="144.0" y="210.0" font-size="6.5" font-weight="bold" text-anchor="start" fill="#000" letter-spacing="-0.3">96.9</text>
<text x="205.4" y="210.6" font-size="6.5" font-weight="bold" text-anchor="start" fill="#000" letter-spacing="-0.3">1.45</text>
<text x="4.3" y="300.9" font-size="14.2" font-weight="bold" text-anchor="start" fill="#000" >D</text>
<line x1="45.00" y1="302.60" x2="45.00" y2="401.90" stroke="#000" stroke-width="1.5" />
<line x1="44.30" y1="401.20" x2="191.00" y2="401.20" stroke="#000" stroke-width="1.5" />
<line x1="41.20" y1="401.20" x2="45.00" y2="401.20" stroke="#000" stroke-width="1.2" />
<text x="41.3" y="403.9" font-size="7.3" font-weight="bold" text-anchor="end" fill="#000" >0</text>
<line x1="41.20" y1="381.62" x2="45.00" y2="381.62" stroke="#000" stroke-width="1.2" />
<text x="41.3" y="384.3" font-size="7.3" font-weight="bold" text-anchor="end" fill="#000" >20</text>
<line x1="41.20" y1="362.04" x2="45.00" y2="362.04" stroke="#000" stroke-width="1.2" />
<text x="41.3" y="364.7" font-size="7.3" font-weight="bold" text-anchor="end" fill="#000" >40</text>
<line x1="41.20" y1="342.46" x2="45.00" y2="342.46" stroke="#000" stroke-width="1.2" />
<text x="41.3" y="345.2" font-size="7.3" font-weight="bold" text-anchor="end" fill="#000" >60</text>
<line x1="41.20" y1="322.88" x2="45.00" y2="322.88" stroke="#000" stroke-width="1.2" />
<text x="41.3" y="325.6" font-size="7.3" font-weight="bold" text-anchor="end" fill="#000" >80</text>
<line x1="41.20" y1="303.30" x2="45.00" y2="303.30" stroke="#000" stroke-width="1.2" />
<text x="41.3" y="306.0" font-size="7.3" font-weight="bold" text-anchor="end" fill="#000" >100</text>
<line x1="52.70" y1="401.20" x2="52.70" y2="404.90" stroke="#000" stroke-width="1.4" />
<text x="52.7" y="411.5" font-size="7.0" font-weight="bold" text-anchor="middle" fill="#000" >7</text>
<line x1="67.30" y1="401.20" x2="67.30" y2="404.90" stroke="#000" stroke-width="1.4" />
<text x="67.3" y="411.5" font-size="7.0" font-weight="bold" text-anchor="middle" fill="#000" >7</text>
<line x1="81.90" y1="401.20" x2="81.90" y2="404.90" stroke="#000" stroke-width="1.4" />
<text x="81.9" y="411.5" font-size="7.0" font-weight="bold" text-anchor="middle" fill="#000" >14</text>
<line x1="96.50" y1="401.20" x2="96.50" y2="404.90" stroke="#000" stroke-width="1.4" />
<text x="96.5" y="411.5" font-size="7.0" font-weight="bold" text-anchor="middle" fill="#000" >14</text>
<line x1="111.10" y1="401.20" x2="111.10" y2="404.90" stroke="#000" stroke-width="1.4" />
<text x="111.1" y="411.5" font-size="7.0" font-weight="bold" text-anchor="middle" fill="#000" >21</text>
<line x1="125.70" y1="401.20" x2="125.70" y2="404.90" stroke="#000" stroke-width="1.4" />
<text x="125.7" y="411.5" font-size="7.0" font-weight="bold" text-anchor="middle" fill="#000" >21</text>
<line x1="140.30" y1="401.20" x2="140.30" y2="404.90" stroke="#000" stroke-width="1.4" />
<text x="140.3" y="411.5" font-size="7.0" font-weight="bold" text-anchor="middle" fill="#000" >27</text>
<line x1="154.90" y1="401.20" x2="154.90" y2="404.90" stroke="#000" stroke-width="1.4" />
<text x="154.9" y="411.5" font-size="7.0" font-weight="bold" text-anchor="middle" fill="#000" >27</text>
<line x1="169.50" y1="401.20" x2="169.50" y2="404.90" stroke="#000" stroke-width="1.4" />
<text x="169.5" y="411.5" font-size="7.0" font-weight="bold" text-anchor="middle" fill="#000" >33</text>
<line x1="184.10" y1="401.20" x2="184.10" y2="404.90" stroke="#000" stroke-width="1.4" />
<text x="184.1" y="411.5" font-size="7.0" font-weight="bold" text-anchor="middle" fill="#000" >33</text>
<text x="119.3" y="426.6" font-size="8.1" font-weight="bold" text-anchor="middle" fill="#000" >Days post BMT</text>
<text x="0.0" y="0.0" font-size="7.8" font-weight="bold" fill="#000" text-anchor="middle" transform="translate(25.4,351.0) rotate(-90)"><tspan dy="0.00">% Tet</tspan><tspan font-size="4.84" dy="-3.28">H60+</tspan><tspan dy="3.28"> of CD8</tspan><tspan font-size="4.84" dy="-3.28">+</tspan></text>
<path d="M167.30,301.44 L169.30,305.04 L165.30,305.04 Z" fill="none" stroke="#000" stroke-width="1.3" stroke-linejoin="miter"/>
<text x="177.9" y="307.5" font-size="8.3" font-weight="normal" fill="#000" ><tspan dy="0.00">T</tspan><tspan font-size="5.98" dx="-0.9" dy="2.32">MH60</tspan><tspan dy="-2.32"> 4x10</tspan><tspan font-size="5.15" dy="-3.49">4</tspan></text>
<rect x="165.60" y="312.90" width="3.4" height="3.4" fill="none" stroke="#000" stroke-width="1.3"/>
<text x="177.9" y="318.5" font-size="8.3" font-weight="normal" fill="#000" ><tspan dy="0.00">T</tspan><tspan font-size="5.98" dx="-0.9" dy="2.32">MH60</tspan><tspan dy="-2.32"> 2x10</tspan><tspan font-size="5.15" dy="-3.49">4</tspan></text>
<path d="M49.50,304.02 L51.80,308.16 L47.20,308.16 Z" fill="none" stroke="#000" stroke-width="1.15" stroke-linejoin="miter"/>
<path d="M51.50,303.02 L53.80,307.16 L49.20,307.16 Z" fill="none" stroke="#000" stroke-width="1.15" stroke-linejoin="miter"/>
<path d="M53.50,302.52 L55.80,306.66 L51.20,306.66 Z" fill="none" stroke="#000" stroke-width="1.15" stroke-linejoin="miter"/>
<path d="M55.50,303.02 L57.80,307.16 L53.20,307.16 Z" fill="none" stroke="#000" stroke-width="1.15" stroke-linejoin="miter"/>
<path d="M57.00,304.02 L59.30,308.16 L54.70,308.16 Z" fill="none" stroke="#000" stroke-width="1.15" stroke-linejoin="miter"/>
<path d="M52.50,304.52 L54.80,308.66 L50.20,308.66 Z" fill="none" stroke="#000" stroke-width="1.15" stroke-linejoin="miter"/>
<path d="M54.50,304.52 L56.80,308.66 L52.20,308.66 Z" fill="none" stroke="#000" stroke-width="1.15" stroke-linejoin="miter"/>
<path d="M50.50,304.52 L52.80,308.66 L48.20,308.66 Z" fill="none" stroke="#000" stroke-width="1.15" stroke-linejoin="miter"/>
<path d="M56.00,304.52 L58.30,308.66 L53.70,308.66 Z" fill="none" stroke="#000" stroke-width="1.15" stroke-linejoin="miter"/>
<path d="M53.00,303.52 L55.30,307.66 L50.70,307.66 Z" fill="none" stroke="#000" stroke-width="1.15" stroke-linejoin="miter"/>
<rect x="49" y="305.5" width="8.5" height="2.6" fill="#000"/>
<line x1="47.50" y1="306.20" x2="58.00" y2="306.20" stroke="#000" stroke-width="1.1" />
<rect x="61.85" y="304.55" width="3.9" height="3.9" fill="none" stroke="#000" stroke-width="1.15"/>
<rect x="64.55" y="304.55" width="3.9" height="3.9" fill="none" stroke="#000" stroke-width="1.15"/>
<rect x="67.55" y="304.55" width="3.9" height="3.9" fill="none" stroke="#000" stroke-width="1.15"/>
<rect x="69.05" y="306.05" width="3.9" height="3.9" fill="none" stroke="#000" stroke-width="1.15"/>
<rect x="63.05" y="307.05" width="3.9" height="3.9" fill="none" stroke="#000" stroke-width="1.15"/>
<rect x="66.05" y="307.55" width="3.9" height="3.9" fill="none" stroke="#000" stroke-width="1.15"/>
<rect x="68.55" y="307.55" width="3.9" height="3.9" fill="none" stroke="#000" stroke-width="1.15"/>
<rect x="65.05" y="305.55" width="3.9" height="3.9" fill="none" stroke="#000" stroke-width="1.15"/>
<rect x="62.55" y="306.05" width="3.9" height="3.9" fill="none" stroke="#000" stroke-width="1.15"/>
<rect x="67.05" y="306.05" width="3.9" height="3.9" fill="none" stroke="#000" stroke-width="1.15"/>
<line x1="62.00" y1="307.80" x2="73.00" y2="307.80" stroke="#000" stroke-width="1.1" />
<path d="M82.70,313.02 L85.00,317.16 L80.40,317.16 Z" fill="none" stroke="#000" stroke-width="1.15" stroke-linejoin="miter"/>
<path d="M79.00,317.02 L81.30,321.16 L76.70,321.16 Z" fill="none" stroke="#000" stroke-width="1.15" stroke-linejoin="miter"/>
<path d="M85.00,316.02 L87.30,320.16 L82.70,320.16 Z" fill="none" stroke="#000" stroke-width="1.15" stroke-linejoin="miter"/>
<path d="M82.00,318.02 L84.30,322.16 L79.70,322.16 Z" fill="none" stroke="#000" stroke-width="1.15" stroke-linejoin="miter"/>
<path d="M80.50,318.02 L82.80,322.16 L78.20,322.16 Z" fill="none" stroke="#000" stroke-width="1.15" stroke-linejoin="miter"/>
<path d="M86.00,318.02 L88.30,322.16 L83.70,322.16 Z" fill="none" stroke="#000" stroke-width="1.15" stroke-linejoin="miter"/>
<path d="M83.50,316.52 L85.80,320.66 L81.20,320.66 Z" fill="none" stroke="#000" stroke-width="1.15" stroke-linejoin="miter"/>
<path d="M81.00,316.02 L83.30,320.16 L78.70,320.16 Z" fill="none" stroke="#000" stroke-width="1.15" stroke-linejoin="miter"/>
<path d="M84.00,318.02 L86.30,322.16 L81.70,322.16 Z" fill="none" stroke="#000" stroke-width="1.15" stroke-linejoin="miter"/>
<line x1="77.00" y1="319.30" x2="88.00" y2="319.30" stroke="#000" stroke-width="1.1" />
<rect x="88.85" y="312.15" width="3.9" height="3.9" fill="none" stroke="#000" stroke-width="1.15"/>
<rect x="95.15" y="312.15" width="3.9" height="3.9" fill="none" stroke="#000" stroke-width="1.15"/>
<rect x="91.65" y="318.85" width="3.9" height="3.9" fill="none" stroke="#000" stroke-width="1.15"/>
<rect x="94.55" y="319.95" width="3.9" height="3.9" fill="none" stroke="#000" stroke-width="1.15"/>
<rect x="98.25" y="319.75" width="3.9" height="3.9" fill="none" stroke="#000" stroke-width="1.15"/>
<rect x="96.35" y="315.05" width="3.9" height="3.9" fill="none" stroke="#000" stroke-width="1.15"/>
<rect x="93.05" y="314.55" width="3.9" height="3.9" fill="none" stroke="#000" stroke-width="1.15"/>
<line x1="89.00" y1="318.00" x2="102.00" y2="318.00" stroke="#000" stroke-width="1.1" />
<path d="M114.60,324.42 L116.90,328.56 L112.30,328.56 Z" fill="none" stroke="#000" stroke-width="1.15" stroke-linejoin="miter"/>
<path d="M105.60,330.72 L107.90,334.86 L103.30,334.86 Z" fill="none" stroke="#000" stroke-width="1.15" stroke-linejoin="miter"/>
<path d="M111.40,330.32 L113.70,334.46 L109.10,334.46 Z" fill="none" stroke="#000" stroke-width="1.15" stroke-linejoin="miter"/>
<path d="M111.40,336.92 L113.70,341.06 L109.10,341.06 Z" fill="none" stroke="#000" stroke-width="1.15" stroke-linejoin="miter"/>
<path d="M115.00,340.02 L117.30,344.16 L112.70,344.16 Z" fill="none" stroke="#000" stroke-width="1.15" stroke-linejoin="miter"/>
<path d="M111.80,343.22 L114.10,347.36 L109.50,347.36 Z" fill="none" stroke="#000" stroke-width="1.15" stroke-linejoin="miter"/>
<line x1="106.30" y1="336.40" x2="116.70" y2="336.40" stroke="#000" stroke-width="1.1" />
<rect x="118.65" y="329.85" width="3.9" height="3.9" fill="none" stroke="#000" stroke-width="1.15"/>
<rect x="124.15" y="326.35" width="3.9" height="3.9" fill="none" stroke="#000" stroke-width="1.15"/>
<rect x="127.45" y="325.25" width="3.9" height="3.9" fill="none" stroke="#000" stroke-width="1.15"/>
<rect x="127.25" y="329.45" width="3.9" height="3.9" fill="none" stroke="#000" stroke-width="1.15"/>
<rect x="121.65" y="337.45" width="3.9" height="3.9" fill="none" stroke="#000" stroke-width="1.15"/>
<rect x="125.15" y="335.85" width="3.9" height="3.9" fill="none" stroke="#000" stroke-width="1.15"/>
<rect x="127.25" y="338.85" width="3.9" height="3.9" fill="none" stroke="#000" stroke-width="1.15"/>
<rect x="124.45" y="343.35" width="3.9" height="3.9" fill="none" stroke="#000" stroke-width="1.15"/>
<line x1="120.00" y1="334.60" x2="132.00" y2="334.60" stroke="#000" stroke-width="1.1" />
<path d="M140.60,346.02 L142.90,350.16 L138.30,350.16 Z" fill="none" stroke="#000" stroke-width="1.15" stroke-linejoin="miter"/>
<path d="M144.20,352.92 L146.50,357.06 L141.90,357.06 Z" fill="none" stroke="#000" stroke-width="1.15" stroke-linejoin="miter"/>
<path d="M135.00,359.92 L137.30,364.06 L132.70,364.06 Z" fill="none" stroke="#000" stroke-width="1.15" stroke-linejoin="miter"/>
<path d="M141.00,357.12 L143.30,361.26 L138.70,361.26 Z" fill="none" stroke="#000" stroke-width="1.15" stroke-linejoin="miter"/>
<path d="M141.00,364.02 L143.30,368.16 L138.70,368.16 Z" fill="none" stroke="#000" stroke-width="1.15" stroke-linejoin="miter"/>
<path d="M141.00,373.12 L143.30,377.26 L138.70,377.26 Z" fill="none" stroke="#000" stroke-width="1.15" stroke-linejoin="miter"/>
<line x1="135.40" y1="361.00" x2="145.80" y2="361.00" stroke="#000" stroke-width="1.1" />
<rect x="150.65" y="342.95" width="3.9" height="3.9" fill="none" stroke="#000" stroke-width="1.15"/>
<rect x="156.25" y="343.45" width="3.9" height="3.9" fill="none" stroke="#000" stroke-width="1.15"/>
<rect x="153.45" y="347.15" width="3.9" height="3.9" fill="none" stroke="#000" stroke-width="1.15"/>
<rect x="147.75" y="352.05" width="3.9" height="3.9" fill="none" stroke="#000" stroke-width="1.15"/>
<rect x="156.25" y="350.75" width="3.9" height="3.9" fill="none" stroke="#000" stroke-width="1.15"/>
<rect x="153.45" y="354.75" width="3.9" height="3.9" fill="none" stroke="#000" stroke-width="1.15"/>
<rect x="156.65" y="356.45" width="3.9" height="3.9" fill="none" stroke="#000" stroke-width="1.15"/>
<rect x="153.45" y="361.25" width="3.9" height="3.9" fill="none" stroke="#000" stroke-width="1.15"/>
<line x1="149.00" y1="354.30" x2="161.00" y2="354.30" stroke="#000" stroke-width="1.1" />
<path d="M164.30,363.52 L166.60,367.66 L162.00,367.66 Z" fill="none" stroke="#000" stroke-width="1.15" stroke-linejoin="miter"/>
<path d="M170.00,367.22 L172.30,371.36 L167.70,371.36 Z" fill="none" stroke="#000" stroke-width="1.15" stroke-linejoin="miter"/>
<path d="M167.60,371.32 L169.90,375.46 L165.30,375.46 Z" fill="none" stroke="#000" stroke-width="1.15" stroke-linejoin="miter"/>
<path d="M172.40,370.52 L174.70,374.66 L170.10,374.66 Z" fill="none" stroke="#000" stroke-width="1.15" stroke-linejoin="miter"/>
<path d="M169.20,374.52 L171.50,378.66 L166.90,378.66 Z" fill="none" stroke="#000" stroke-width="1.15" stroke-linejoin="miter"/>
<path d="M173.20,373.72 L175.50,377.86 L170.90,377.86 Z" fill="none" stroke="#000" stroke-width="1.15" stroke-linejoin="miter"/>
<path d="M170.80,375.82 L173.10,379.96 L168.50,379.96 Z" fill="none" stroke="#000" stroke-width="1.15" stroke-linejoin="miter"/>
<line x1="163.00" y1="373.40" x2="176.00" y2="373.40" stroke="#000" stroke-width="1.1" />
<rect x="179.85" y="360.45" width="3.9" height="3.9" fill="none" stroke="#000" stroke-width="1.15"/>
<rect x="183.15" y="366.15" width="3.9" height="3.9" fill="none" stroke="#000" stroke-width="1.15"/>
<rect x="186.65" y="366.15" width="3.9" height="3.9" fill="none" stroke="#000" stroke-width="1.15"/>
<rect x="176.95" y="370.55" width="3.9" height="3.9" fill="none" stroke="#000" stroke-width="1.15"/>
<rect x="183.45" y="370.15" width="3.9" height="3.9" fill="none" stroke="#000" stroke-width="1.15"/>
<rect x="186.65" y="369.85" width="3.9" height="3.9" fill="none" stroke="#000" stroke-width="1.15"/>
<rect x="183.15" y="374.25" width="3.9" height="3.9" fill="none" stroke="#000" stroke-width="1.15"/>
<rect x="186.35" y="378.65" width="3.9" height="3.9" fill="none" stroke="#000" stroke-width="1.15"/>
<rect x="183.15" y="383.15" width="3.9" height="3.9" fill="none" stroke="#000" stroke-width="1.15"/>
<line x1="178.00" y1="372.50" x2="192.00" y2="372.50" stroke="#000" stroke-width="1.1" />
</svg></body></html>
